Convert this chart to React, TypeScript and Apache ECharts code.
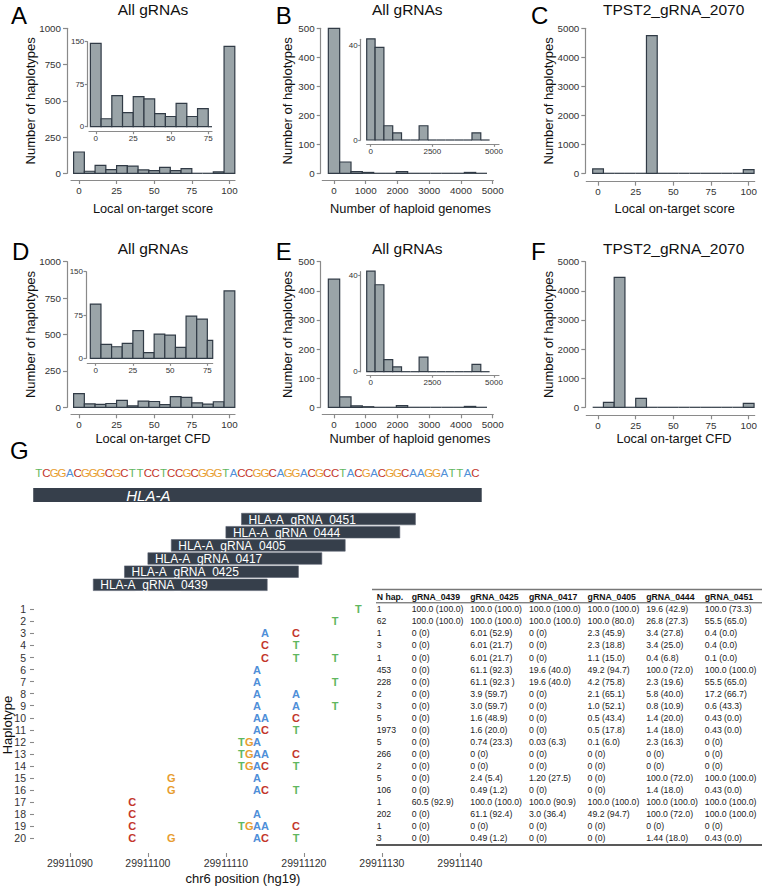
import React, { useEffect, useRef } from "react";
import * as echarts from "echarts";

// ---------------- Data ----------------
const SCORE_BIN_WIDTH = 100 / 14; // 15 bins centred on 0 ... 100
const GENOME_BIN_WIDTH = 5000 / 14; // 14 bins centred on 0 ... 4643

const A_COUNTS = [147, 14, 55, 25, 53, 49, 23, 18, 41, 18, 32, 0, 0, 10, 876];
const B_COUNTS = [500, 39, 6, 3, 0, 0, 6, 0, 0, 0, 0, 0, 3, 0];
const C_COUNTS = [150, 0, 0, 0, 0, 4750, 0, 0, 0, 0, 0, 0, 0, 0, 130];
const D_COUNTS = [94, 24, 20, 26, 48, 10, 42, 40, 19, 73, 68, 31, 22, 38, 799];
const E_COUNTS = [440, 36, 5, 2, 0, 0, 6, 0, 0, 0, 0, 0, 3, 0];
const F_COUNTS = [0, 172, 4460, 0, 309, 0, 0, 0, 0, 0, 0, 0, 0, 0, 137];

const SCORE_TICKS = [0, 25, 50, 75, 100];
const SCORE_INSET_TICKS = [0, 25, 50, 75];
const GENOME_TICKS = [0, 1000, 2000, 3000, 4000, 5000];
const GENOME_INSET_TICKS = [0, 2500, 5000];
const Y1000_TICKS = [0, 250, 500, 750, 1000];
const Y500_TICKS = [0, 100, 200, 300, 400, 500];
const Y5000_TICKS = [0, 1000, 2000, 3000, 4000, 5000];
const INSET150_TICKS = [0, 75, 150];
const INSET40_TICKS = [0, 40];

// Panel G
const REF_START = 29911086;
const REF_SEQUENCE = "TCGGACGGGCGCTTCCTCCGCGGGTACCGGCAGGACGCCTACGACGGCAAGGATTAC";
const GENE_NAME = "HLA-A";
const GENE_START = 29911085.3;
const GENE_END = 29911142.8;
const GRNA_NAMES = ["HLA-A_gRNA_0451", "HLA-A_gRNA_0444", "HLA-A_gRNA_0405", "HLA-A_gRNA_0417", "HLA-A_gRNA_0425", "HLA-A_gRNA_0439"];
const GRNA_START = [29911112, 29911110, 29911103, 29911100, 29911097, 29911093];
const GRNA_END = [29911134.3, 29911132.3, 29911125.3, 29911122.3, 29911119.3, 29911115.3];
const POS_TICKS = [29911090, 29911100, 29911110, 29911120, 29911130, 29911140];
const POS_MIN = 29911085.4;
const POS_MAX = 29911144;
const HAP_LABELS = ["1", "2", "3", "4", "5", "6", "7", "8", "9", "10", "11", "12", "13", "14", "15", "16", "17", "18", "19", "20"];

const HAPLOTYPE_VARIANTS: Array<Array<[number, string]>> = [
  [[29911127, "T"]],
  [[29911124, "T"]],
  [[29911115, "A"], [29911119, "C"]],
  [[29911115, "C"], [29911119, "T"]],
  [[29911115, "C"], [29911119, "T"], [29911124, "T"]],
  [[29911114, "A"]],
  [[29911114, "A"], [29911124, "T"]],
  [[29911114, "A"], [29911119, "A"]],
  [[29911114, "A"], [29911119, "A"], [29911124, "T"]],
  [[29911114, "A"], [29911115, "A"], [29911119, "C"]],
  [[29911114, "A"], [29911115, "C"], [29911119, "T"]],
  [[29911112, "T"], [29911113, "G"], [29911114, "A"]],
  [[29911112, "T"], [29911113, "G"], [29911114, "A"], [29911115, "A"], [29911119, "C"]],
  [[29911112, "T"], [29911113, "G"], [29911114, "A"], [29911115, "C"], [29911119, "T"]],
  [[29911103, "G"], [29911114, "A"]],
  [[29911103, "G"], [29911114, "A"], [29911115, "C"], [29911119, "T"]],
  [[29911098, "C"]],
  [[29911098, "C"], [29911114, "A"]],
  [[29911098, "C"], [29911112, "T"], [29911113, "G"], [29911114, "A"], [29911115, "A"], [29911119, "C"]],
  [[29911098, "C"], [29911103, "G"], [29911114, "A"], [29911115, "C"], [29911119, "T"]],
];

const TABLE_HEADER = ["N hap.", "gRNA_0439", "gRNA_0425", "gRNA_0417", "gRNA_0405", "gRNA_0444", "gRNA_0451"];
const N_HAP = ["1", "62", "1", "3", "1", "453", "228", "2", "3", "5", "1973", "5", "266", "2", "5", "106", "1", "202", "1", "3"];
const COL_0439 = ["100.0 (100.0)", "100.0 (100.0)", "0 (0)", "0 (0)", "0 (0)", "0 (0)", "0 (0)", "0 (0)", "0 (0)", "0 (0)", "0 (0)", "0 (0)", "0 (0)", "0 (0)", "0 (0)", "0 (0)", "60.5 (92.9)", "0 (0)", "0 (0)", "0 (0)"];
const COL_0425 = ["100.0 (100.0)", "100.0 (100.0)", "6.01 (52.9)", "6.01 (21.7)", "6.01 (21.7)", "61.1 (92.3)", "61.1 (92.3 )", "3.9 (59.7)", "3.0 (59.7)", "1.6 (48.9)", "1.6 (20.0)", "0.74 (23.3)", "0 (0)", "0 (0)", "2.4 (5.4)", "0.49 (1.2)", "100.0 (100.0)", "61.1 (92.4)", "0 (0)", "0.49 (1.2)"];
const COL_0417 = ["100.0 (100.0)", "100.0 (100.0)", "0 (0)", "0 (0)", "0 (0)", "19.6 (40.0)", "19.6 (40.0)", "0 (0)", "0 (0)", "0 (0)", "0 (0)", "0.03 (6.3)", "0 (0)", "0 (0)", "1.20 (27.5)", "0 (0)", "100.0 (90.9)", "3.0 (36.4)", "0 (0)", "0 (0)"];
const COL_0405 = ["100.0 (100.0)", "100.0 (80.0)", "2.3 (45.9)", "2.3 (18.8)", "1.1 (15.0)", "49.2 (94.7)", "4.2 (75.8)", "2.1 (65.1)", "1.0 (52.1)", "0.5 (43.4)", "0.5 (17.8)", "0.1 (6.0)", "0 (0)", "0 (0)", "0 (0)", "0 (0)", "100.0 (100.0)", "49.2 (94.7)", "0 (0)", "0 (0)"];
const COL_0444 = ["19.6 (42.9)", "26.8 (27.3)", "3.4 (27.8)", "3.4 (25.0)", "0.4 (6.8)", "100.0 (72.0)", "2.3 (19.6)", "5.8 (40.0)", "0.8 (10.9)", "1.4 (20.0)", "1.4 (18.0)", "2.3 (16.3)", "0 (0)", "0 (0)", "100.0 (72.0)", "1.4 (18.0)", "100.0 (100.0)", "100.0 (72.0)", "0 (0)", "1.44 (18.0)"];
const COL_0451 = ["100.0 (73.3)", "55.5 (65.0)", "0.4 (0.0)", "0.4 (0.0)", "0.1 (0.0)", "100.0 (100.0)", "55.5 (65.0)", "17.2 (66.7)", "0.6 (43.3)", "0.43 (0.0)", "0.43 (0.0)", "0 (0)", "0 (0)", "0 (0)", "100.0 (100.0)", "0.43 (0.0)", "100.0 (100.0)", "100.0 (100.0)", "0 (0)", "0.43 (0.0)"];
const TABLE_COLUMNS = [N_HAP, COL_0439, COL_0425, COL_0417, COL_0405, COL_0444, COL_0451];

// ---------------- Styles ----------------
const FONT = "'Liberation Sans', Arial, Helvetica, sans-serif";
const AXIS_COLOR = "#8a8a8a";
const LABEL_COLOR = "#333";
const TEXT_COLOR = "#111";
const BAR_FILL = "#9aa4a8";
const BAR_STROKE = "#313b46";
const TRACK_FILL = "#363f4b";
const BASES = "ACGT";
const BASE_COLORS: Record<string, string> = { A: "#4f8fd8", C: "#c3362b", G: "#e79d2f", T: "#5fb760" };

const fmt = (v: number) => String(Math.round(v));

type Panel = {
  counts: number[]; bw: number; left: number; top: number; width: number; height: number;
  xMin: number; xMax: number; yMax: number; xTicks: number[]; yTicks: number[];
  yOff: number; xOff: number; inset?: boolean;
};

const PANELS: Panel[] = [
  { counts: A_COUNTS, bw: SCORE_BIN_WIDTH, left: 71, top: 28.3, width: 164, height: 145, xMin: -5.3, xMax: 103.7, yMax: 1000, xTicks: SCORE_TICKS, yTicks: Y1000_TICKS, yOff: 4, xOff: 6.7 },
  { counts: B_COUNTS, bw: GENOME_BIN_WIDTH, left: 322.3, top: 28.3, width: 171, height: 145, xMin: -369, xMax: 5019, yMax: 500, xTicks: GENOME_TICKS, yTicks: Y500_TICKS, yOff: 1.6, xOff: 6.7 },
  { counts: C_COUNTS, bw: SCORE_BIN_WIDTH, left: 586.3, top: 28.3, width: 168.4, height: 145, xMin: -7.8, xMax: 104, yMax: 5000, xTicks: SCORE_TICKS, yTicks: Y5000_TICKS, yOff: 1, xOff: 8.4 },
  { counts: D_COUNTS, bw: SCORE_BIN_WIDTH, left: 71, top: 261.7, width: 164, height: 145.6, xMin: -5.3, xMax: 103.7, yMax: 1000, xTicks: SCORE_TICKS, yTicks: Y1000_TICKS, yOff: 4, xOff: 7 },
  { counts: E_COUNTS, bw: GENOME_BIN_WIDTH, left: 322.3, top: 261.7, width: 171, height: 145.6, xMin: -369, xMax: 5019, yMax: 500, xTicks: GENOME_TICKS, yTicks: Y500_TICKS, yOff: 1.6, xOff: 7 },
  { counts: F_COUNTS, bw: SCORE_BIN_WIDTH, left: 586.3, top: 261.7, width: 168.4, height: 145.6, xMin: -7.8, xMax: 104, yMax: 5000, xTicks: SCORE_TICKS, yTicks: Y5000_TICKS, yOff: 1, xOff: 8 },
  { counts: A_COUNTS, bw: SCORE_BIN_WIDTH, left: 89, top: 41.7, width: 123, height: 85, xMin: -4.5, xMax: 77.5, yMax: 150, xTicks: SCORE_INSET_TICKS, yTicks: INSET150_TICKS, yOff: 1.7, xOff: 5, inset: true },
  { counts: B_COUNTS, bw: GENOME_BIN_WIDTH, left: 366.7, top: 39.3, width: 132.3, height: 100.7, xMin: -162, xMax: 5203, yMax: 42.4, xTicks: GENOME_INSET_TICKS, yTicks: INSET40_TICKS, yOff: 6, xOff: 4.3, inset: true },
  { counts: D_COUNTS, bw: SCORE_BIN_WIDTH, left: 87.3, top: 271.7, width: 125.4, height: 86.6, xMin: -5.6, xMax: 78.6, yMax: 150, xTicks: SCORE_INSET_TICKS, yTicks: INSET150_TICKS, yOff: 1.3, xOff: 5, inset: true },
  { counts: E_COUNTS, bw: GENOME_BIN_WIDTH, left: 366.7, top: 271.7, width: 132.3, height: 100, xMin: -162, xMax: 5203, yMax: 41.4, xTicks: GENOME_INSET_TICKS, yTicks: INSET40_TICKS, yOff: 6, xOff: 3.5, inset: true },
];

function histRender(bw: number) {
  return (params: any, api: any) => {
    const c = api.value(0);
    const v = api.value(1);
    const cs = params.coordSys;
    const p0 = api.coord([c - bw / 2, v]);
    const p1 = api.coord([c + bw / 2, 0]);
    if (v <= 0) {
      const x0 = Math.max(p0[0], cs.x);
      const x1 = Math.min(p1[0], cs.x + cs.width);
      if (x1 <= x0) return null;
      return { type: "line", shape: { x1: x0, y1: p1[1], x2: x1, y2: p1[1] }, style: { stroke: BAR_STROKE, lineWidth: 1.2 } };
    }
    const rect = echarts.graphic.clipRectByRect(
      { x: p0[0], y: p0[1], width: p1[0] - p0[0], height: p1[1] - p0[1] },
      { x: cs.x, y: cs.y - 0.5, width: cs.width, height: cs.height + 0.5 }
    );
    if (!rect) return null;
    return { type: "rect", shape: rect, style: { fill: BAR_FILL, stroke: BAR_STROKE, lineWidth: 1.2 } };
  };
}

// Layout of panel G
const G_LEFT = 34;
const PX_PER_BP = 7.8;
const G_WIDTH = (POS_MAX - POS_MIN) * PX_PER_BP;
const TRACK_TOP = 462;
const TRACK_HEIGHT = 131.5;
const SEQ_ROW = 0.84;
const GENE_ROWS = [1.98, 3.04];
const GRNA_ROW0 = 3.9;
const GRNA_ROW_H = 0.88;
const HAP_TOP = 603.3;
const HAP_HEIGHT = 241;
const TABLE_X = [376.7, 411.7, 470.3, 529, 587.6, 646.2, 704.8];

function buildOption() {
  const grid: any[] = [];
  const xAxis: any[] = [];
  const yAxis: any[] = [];
  const series: any[] = [];

  PANELS.forEach((p, i) => {
    const fs = p.inset ? 8 : 9.8;
    const tl = p.inset ? 2.5 : 4;
    grid.push({ left: p.left, top: p.top, width: p.width, height: p.height });
    const lineStyle = { color: AXIS_COLOR, width: 1.2 };
    xAxis.push({
      gridIndex: i, type: "value", min: p.xMin, max: p.xMax, offset: p.xOff,
      splitLine: { show: false },
      axisLine: { show: true, onZero: false, lineStyle },
      axisTick: { show: true, length: tl, customValues: p.xTicks, lineStyle },
      axisLabel: { customValues: p.xTicks, fontSize: fs, color: LABEL_COLOR, fontFamily: FONT, margin: p.inset ? 3 : 5, formatter: fmt },
    });
    yAxis.push({
      gridIndex: i, type: "value", min: 0, max: p.yMax, offset: p.yOff,
      splitLine: { show: false },
      axisLine: { show: true, onZero: false, lineStyle },
      axisTick: { show: true, length: tl, customValues: p.yTicks, lineStyle },
      axisLabel: { customValues: p.yTicks, fontSize: fs, color: LABEL_COLOR, fontFamily: FONT, margin: p.inset ? 3 : 6, formatter: fmt },
    });
    series.push({
      type: "custom", xAxisIndex: i, yAxisIndex: i, clip: false,
      data: p.counts.map((c, k) => [k * p.bw, c]),
      encode: { x: 0, y: 1 },
      renderItem: histRender(p.bw),
    });
  });

  // Track grid (sequence, gene, gRNAs)
  const ti = PANELS.length;
  grid.push({ left: G_LEFT, top: TRACK_TOP, width: G_WIDTH, height: TRACK_HEIGHT });
  xAxis.push({ gridIndex: ti, type: "value", min: POS_MIN, max: POS_MAX, show: false });
  yAxis.push({ gridIndex: ti, type: "value", min: 0, max: 10, inverse: true, show: false });

  series.push({
    type: "custom", xAxisIndex: ti, yAxisIndex: ti,
    data: REF_SEQUENCE.split("").map((b, k) => [REF_START + k, BASES.indexOf(b)]),
    encode: { x: 0, y: 1 },
    renderItem: (params: any, api: any) => {
      const pt = api.coord([api.value(0), SEQ_ROW]);
      const b = BASES[api.value(1)];
      return {
        type: "text", x: pt[0], y: pt[1],
        style: { text: b, fill: BASE_COLORS[b], font: `11.5px ${FONT}`, align: "center", verticalAlign: "middle", textAlign: "center", textVerticalAlign: "middle" },
      };
    },
  });

  series.push({
    type: "custom", xAxisIndex: ti, yAxisIndex: ti,
    data: [[GENE_START, GENE_END, 0]],
    encode: { x: [0, 1], y: 2 },
    renderItem: (params: any, api: any) => {
      const a = api.coord([api.value(0), GENE_ROWS[0]]);
      const b = api.coord([api.value(1), GENE_ROWS[1]]);
      return {
        type: "group",
        children: [
          { type: "rect", shape: { x: a[0], y: a[1], width: b[0] - a[0], height: b[1] - a[1] }, style: { fill: TRACK_FILL } },
          {
            type: "text", x: a[0] + 93, y: (a[1] + b[1]) / 2,
            style: { text: GENE_NAME, fill: "#fff", font: `italic 15px ${FONT}`, align: "left", verticalAlign: "middle", textAlign: "left", textVerticalAlign: "middle" },
          },
        ],
      };
    },
  });

  series.push({
    type: "custom", xAxisIndex: ti, yAxisIndex: ti,
    data: GRNA_NAMES.map((_, k) => [GRNA_START[k], GRNA_END[k], k]),
    encode: { x: [0, 1], y: 2 },
    renderItem: (params: any, api: any) => {
      const k = api.value(2);
      const a = api.coord([api.value(0), GRNA_ROW0 + k]);
      const b = api.coord([api.value(1), GRNA_ROW0 + k + GRNA_ROW_H]);
      return {
        type: "group",
        children: [
          { type: "rect", shape: { x: a[0], y: a[1], width: b[0] - a[0], height: b[1] - a[1] }, style: { fill: TRACK_FILL, stroke: "#5a6270", lineWidth: 0.6 } },
          {
            type: "text", x: a[0] + 7, y: (a[1] + b[1]) / 2 + 0.5,
            style: { text: GRNA_NAMES[params.dataIndex], fill: "#fff", font: `12px ${FONT}`, align: "left", verticalAlign: "middle", textAlign: "left", textVerticalAlign: "middle" },
          },
        ],
      };
    },
  });

  // Haplotype grid
  const hi = ti + 1;
  grid.push({ left: G_LEFT, top: HAP_TOP, width: G_WIDTH, height: HAP_HEIGHT });
  const hapLine = { color: AXIS_COLOR, width: 1.1 };
  xAxis.push({
    gridIndex: hi, type: "value", min: POS_MIN, max: POS_MAX, offset: 8.7,
    splitLine: { show: false },
    axisLine: { show: false, onZero: false },
    axisTick: { show: true, length: 4, customValues: POS_TICKS, lineStyle: hapLine },
    axisLabel: { customValues: POS_TICKS, fontSize: 10.5, color: LABEL_COLOR, fontFamily: FONT, margin: 4, formatter: fmt },
  });
  yAxis.push({
    gridIndex: hi, type: "category", data: HAP_LABELS, inverse: true,
    axisLine: { show: false, onZero: false },
    axisTick: { show: true, alignWithLabel: true, interval: 0, length: 4, lineStyle: hapLine },
    axisLabel: { interval: 0, fontSize: 10.5, color: LABEL_COLOR, fontFamily: FONT, margin: 8 },
    splitLine: { show: false },
  });

  const hapData: number[][] = [];
  HAPLOTYPE_VARIANTS.forEach((vars, r) => vars.forEach(([pos, b]) => hapData.push([pos, r, BASES.indexOf(b)])));
  series.push({
    type: "custom", xAxisIndex: hi, yAxisIndex: hi,
    data: hapData,
    encode: { x: 0, y: 1 },
    renderItem: (params: any, api: any) => {
      const pt = api.coord([api.value(0), api.value(1)]);
      const b = BASES[api.value(2)];
      return {
        type: "text", x: pt[0], y: pt[1],
        style: { text: b, fill: BASE_COLORS[b], font: `bold 11px ${FONT}`, align: "center", verticalAlign: "middle", textAlign: "center", textVerticalAlign: "middle" },
      };
    },
  });

  // Table body rows aligned with haplotype rows
  series.push({
    type: "custom", xAxisIndex: hi, yAxisIndex: hi,
    data: HAP_LABELS.map((_, r) => [POS_MIN, r]),
    encode: { x: 0, y: 1 },
    renderItem: (params: any, api: any) => {
      const r = params.dataIndex;
      const y = api.coord([POS_MIN, r])[1];
      return {
        type: "group",
        children: TABLE_COLUMNS.map((col, c) => ({
          type: "text", x: TABLE_X[c], y: y,
          style: { text: col[r], fill: "#222", font: `8.7px ${FONT}`, align: "left", verticalAlign: "middle", textAlign: "left", textVerticalAlign: "middle" },
        })),
      };
    },
  });

  // ---------------- Graphic texts ----------------
  const txt = (text: string, x: number, y: number, font: string, extra: any = {}) => ({
    type: "text", x, y, silent: true, ...extra,
    style: { text, fill: TEXT_COLOR, font, align: "center", verticalAlign: "middle", textAlign: "center", textVerticalAlign: "middle", ...(extra.style || {}) },
  });
  const graphic: any[] = [];
  const letters: [string, number, number][] = [["A", 11, 15], ["B", 275.7, 15], ["C", 531, 15], ["D", 12, 251.5], ["E", 275.7, 251.5], ["F", 531, 251.5], ["G", 10, 450.5]];
  letters.forEach(([t, x, y]) => graphic.push(txt(t, x, y, `24px ${FONT}`, { style: { align: "left", textAlign: "left", fill: "#000" } })));
  const titles: [string, number, number][] = [["All gRNAs", 153, 9.5], ["All gRNAs", 407.3, 9.5], ["TPST2_gRNA_2070", 673.7, 9.5], ["All gRNAs", 153, 248], ["All gRNAs", 407.3, 248], ["TPST2_gRNA_2070", 673.7, 248]];
  titles.forEach(([t, x, y]) => graphic.push(txt(t, x, y, `15.5px ${FONT}`)));
  const xTitles: [string, number, number][] = [
    ["Local on-target score", 153, 208], ["Number of haploid genomes", 410.5, 208], ["Local on-target score", 674.7, 208],
    ["Local on-target CFD", 153, 438.3], ["Number of haploid genomes", 410, 438.3], ["Local on-target CFD", 674, 438.3],
  ];
  xTitles.forEach(([t, x, y]) => graphic.push(txt(t, x, y, `12.8px ${FONT}`)));
  const yTitles: [number, number][] = [[30, 100.8], [287.3, 100.8], [548, 100.8], [30, 334.5], [287.3, 334.5], [548, 334.5]];
  yTitles.forEach(([x, y]) => graphic.push(txt("Number of haplotypes", x, y, `13px ${FONT}`, { rotation: Math.PI / 2 })));
  graphic.push(txt("Haplotype", 7.5, 725, `13px ${FONT}`, { rotation: Math.PI / 2 }));
  graphic.push(txt("chr6 position (hg19)", 243, 878, `13px ${FONT}`));

  // Table header and rules
  TABLE_HEADER.forEach((h, c) =>
    graphic.push(txt(h, TABLE_X[c], 597.3, `bold 8.7px ${FONT}`, { style: { align: "left", textAlign: "left", fill: "#111" } }))
  );
  graphic.push({ type: "line", silent: true, shape: { x1: 372, y1: 589.5, x2: 762, y2: 589.5 }, style: { stroke: "#777", lineWidth: 1.4 } });
  graphic.push({ type: "line", silent: true, shape: { x1: 376, y1: 602.8, x2: 762, y2: 602.8 }, style: { stroke: "#222", lineWidth: 0.8 } });
  graphic.push({ type: "line", silent: true, shape: { x1: 376, y1: 845, x2: 762, y2: 845 }, style: { stroke: "#222", lineWidth: 1.3 } });

  return {
    animation: false,
    backgroundColor: "#fff",
    textStyle: { fontFamily: FONT },
    grid, xAxis, yAxis, series, graphic,
  };
}

export default function App() {
  const ref = useRef<HTMLDivElement>(null);
  useEffect(() => {
    const chart = echarts.init(ref.current!, null, { renderer: "svg", width: 762, height: 887 });
    chart.setOption(buildOption() as any);
    return () => chart.dispose();
  }, []);
  return <div ref={ref} style={{ position: "absolute", left: 0, top: 0, width: 762, height: 887, background: "#fff" }} />;
}
